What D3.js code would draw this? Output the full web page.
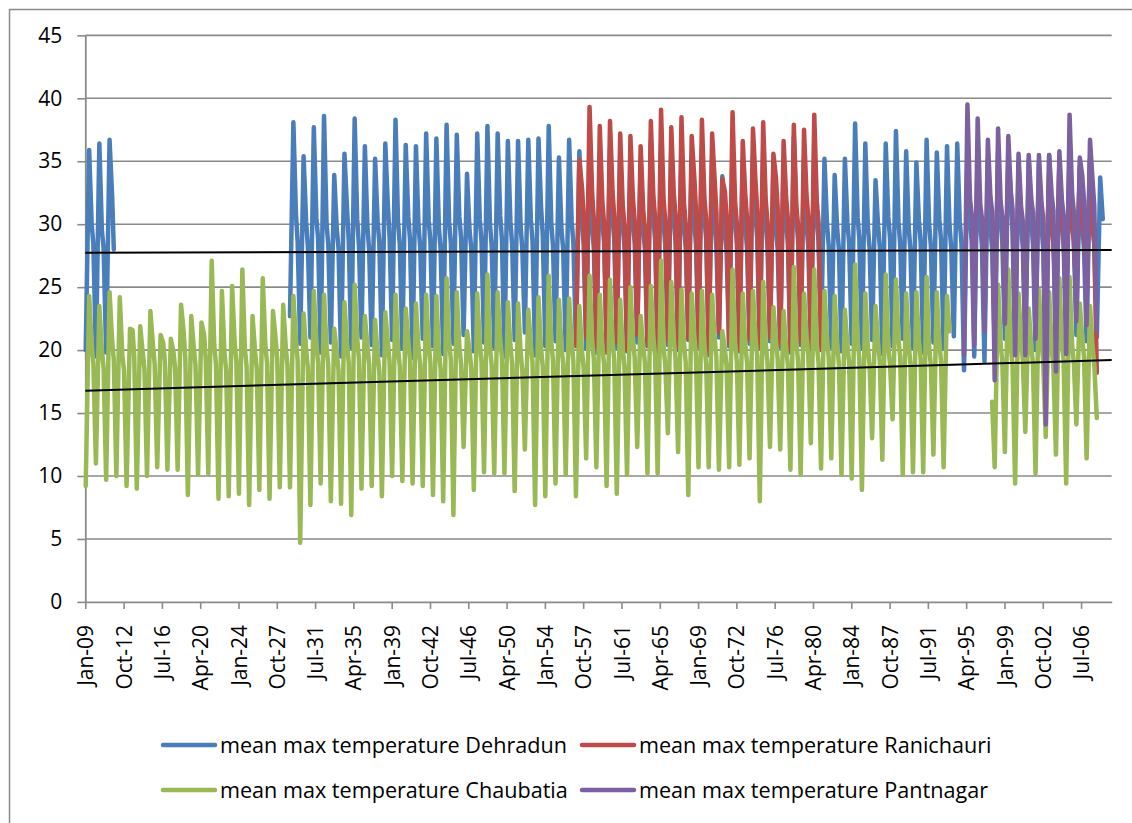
<!DOCTYPE html>
<html>
<head>
<meta charset="utf-8">
<script src="https://cdn.jsdelivr.net/npm/d3@7/dist/d3.min.js"></script>
<style>
  body { margin: 0; background: #fff; }
  svg { display: block; }
</style>
</head>
<body>
<svg id="chart" width="1132" height="823"></svg>
<script>
// ---- categories: one per month, Jan 1909 to Jun 2009 ----
const firstYear = 1909;
const monthCount = 1206;
const tickEvery = 45;
const tickLabels = ["Jan-09","Oct-12","Jul-16","Apr-20","Jan-24","Oct-27","Jul-31","Apr-35","Jan-39",
  "Oct-42","Jul-46","Apr-50","Jan-54","Oct-57","Jul-61","Apr-65","Jan-69","Oct-72","Jul-76",
  "Apr-80","Jan-84","Oct-87","Jul-91","Apr-95","Jan-99","Oct-02","Jul-06"];
const yTicks = [0, 5, 10, 15, 20, 25, 30, 35, 40, 45];

// ---- seasonal readings per year (deg C): January low, May peak, August monsoon, October ----
// Dehradun, 1909-2008
const dehradunStart = 1909;
const dehradunJan = [20.0,19.5,19.8,null,
  null,null,null,null,null,null,null,null,null,null,null,null,null,null,null,null,
  22.7,20.5,21.0,19.8,20.6,19.5,20.2,21.0,20.4,19.6,20.8,20.1,19.4,20.9,20.3,19.7,20.5,21.2,19.9,20.6,
  20.2,19.5,20.8,21.4,19.6,20.3,20.7,20.0,
  20.4,20.1,19.8,20.5,20.2,19.9,20.6,20.3,19.7,20.4,20.0,20.8,20.2,19.6,21.0,20.3,19.9,20.5,20.1,20.7,
  20.2,19.8,20.4,20.0,
  20.6,20.2,19.9,20.5,20.1,20.8,19.7,20.3,20.9,20.2,19.8,20.6,20.1,21.1,18.4,19.5,19.1,20.4,20.9,20.2,
  20.6,20.0,20.5,20.3,20.8,21.2,20.7,21.0];
const dehradunMay = [35.9,36.4,36.7,null,
  null,null,null,null,null,null,null,null,null,null,null,null,null,null,null,null,
  38.1,35.4,37.7,38.6,33.9,35.6,38.4,36.2,35.2,36.4,38.3,36.3,36.2,37.2,36.8,37.9,37.1,34.0,37.2,37.8,
  37.2,36.6,36.6,36.7,36.8,37.8,35.3,36.7,
  35.8,36.2,35.6,36.0,35.5,35.2,35.0,36.6,36.4,35.8,36.1,35.4,35.9,35.3,33.8,36.2,35.1,35.4,35.7,34.6,
  35.2,36.9,35.3,36.0,
  35.2,33.9,35.2,38.0,36.4,33.5,36.4,37.4,35.8,34.9,36.7,35.7,36.2,36.4,35.6,36.0,35.2,35.8,35.4,34.8,
  35.1,34.9,35.5,35.0,35.8,34.6,35.2,33.7];
const dehradunAug = [30.0,29.5,32.3,null,
  null,null,null,null,null,null,null,null,null,null,null,null,null,null,null,null,
  30.8,30.2,30.5,30.0,29.6,31.3,30.4,29.8,30.2,31.5,30.1,30.6,29.9,30.3,29.7,30.2,30.6,29.5,30.4,30.0,
  30.7,30.2,29.8,30.4,31.4,30.1,29.6,30.2,
  30.3,29.8,30.1,30.4,29.9,30.2,29.7,30.5,30.0,30.3,29.8,30.1,30.4,29.9,29.4,30.2,29.8,30.6,30.0,29.7,
  30.1,30.4,29.9,30.3,
  30.0,29.6,30.1,30.5,29.8,29.9,30.6,30.2,29.7,30.3,30.0,30.4,29.8,30.2,30.4,30.1,29.8,30.3,32.5,30.0,
  30.2,29.9,30.4,30.1,30.3,29.8,30.2,30.4];
const dehradunOct = [28.4,28.1,28.0,null,
  null,null,null,null,null,null,null,null,null,null,null,null,null,null,null,null,
  28.6,28.2,28.9,28.4,28.1,28.7,28.3,28.0,28.5,29.0,28.4,28.8,28.2,28.6,28.0,28.5,28.9,28.1,28.7,28.3,
  28.8,28.4,28.0,28.6,29.1,28.3,28.0,28.5,
  28.4,28.1,28.6,28.8,28.2,28.5,28.0,28.7,28.3,28.6,28.1,28.4,28.8,28.2,27.9,28.5,28.1,28.9,28.3,28.0,
  28.4,28.7,28.2,28.6,
  28.3,28.0,28.5,28.8,28.1,28.2,28.9,28.4,28.0,28.6,28.3,28.7,28.1,28.5,28.6,28.3,28.0,28.5,29.2,28.2,
  28.4,28.1,28.6,28.3,28.5,28.0,28.4,null];

// Ranichauri, 1957-2008
const ranichauriStart = 1957;
const ranichauriJan = [20.3,21.0,20.2,19.8,20.6,20.0,21.2,20.4,19.9,20.7,20.1,20.9,20.3,19.7,21.4,20.5,
  20.0,20.8,20.2,21.0,20.4,19.9,20.6,20.1,20.0,
  null,null,null,null,null,null,null,null,null,null,null,null,null,null,null,null,null,null,null,null,null,
  24.5,24.0,23.5,24.2,23.8,18.2];
const ranichauriMay = [35.1,39.3,37.8,38.2,37.2,37.0,36.2,38.2,39.1,37.7,38.5,37.0,38.3,37.2,33.6,38.9,
  36.6,37.6,38.1,35.6,36.6,37.9,37.5,38.7,null,
  null,null,null,null,null,null,null,null,null,null,null,null,null,null,null,null,null,null,null,null,null,
  34.0,34.8,35.5,34.5,35.0,null];
const ranichauriAug = [33.0,32.5,31.8,32.6,31.5,32.0,31.2,32.2,31.9,32.4,31.6,33.8,32.0,33.5,32.6,31.8,
  32.3,33.4,31.9,33.7,32.1,31.4,32.2,31.8,null,
  null,null,null,null,null,null,null,null,null,null,null,null,null,null,null,null,null,null,null,null,null,
  29.5,30.0,29.8,30.2,29.6,null];
const ranichauriOct = [30.8,30.4,30.1,30.6,29.9,30.3,29.7,30.5,30.2,30.7,30.0,31.2,30.4,31.0,30.6,30.1,
  30.5,31.1,30.2,31.3,30.4,29.9,30.6,30.2,null,
  null,null,null,null,null,null,null,null,null,null,null,null,null,null,null,null,null,null,null,null,null,
  28.5,28.9,28.7,29.1,28.6,null];

// Chaubatia, 1909-2008
const chaubatiaStart = 1909;
const chaubatiaJan = [9.2,11.0,9.7,10.0,9.2,9.0,10.0,10.7,10.5,10.5,
  8.5,10.1,10.2,8.2,8.4,8.6,7.7,8.9,8.2,9.1,
  9.1,4.7,7.7,9.4,8.0,7.8,6.9,9.0,9.2,8.4,
  10.0,9.6,9.4,9.2,8.5,8.0,6.9,12.3,8.9,10.3,
  10.2,10.2,8.8,12.1,7.7,8.4,9.4,10.1,8.4,11.4,
  10.7,9.2,8.6,10.1,12.3,10.2,10.2,13.4,11.9,8.5,
  10.7,10.7,10.5,10.7,10.9,11.4,8.0,12.3,12.1,10.5,
  10.1,12.6,10.6,11.4,10.1,9.8,8.9,13.0,11.3,14.5,
  10.1,10.3,10.3,11.7,10.7,null,null,null,null,10.7,
  11.9,9.4,13.5,10.2,13.1,11.7,9.4,14.1,11.4,14.6];
const chaubatiaMay = [24.3,23.5,24.6,24.2,21.7,21.9,23.1,21.2,20.9,23.6,
  22.7,22.2,27.1,24.7,25.1,26.4,22.7,25.7,23.1,23.6,
  24.3,22.9,24.7,24.4,21.7,23.8,25.2,22.7,22.4,23.0,
  24.4,23.3,23.7,24.4,24.3,25.7,24.6,21.5,24.5,26.0,
  24.6,23.8,23.7,23.2,24.2,25.9,24.0,24.1,23.5,25.9,
  24.4,25.6,24.0,25.0,22.7,25.1,27.1,25.4,24.8,24.5,
  24.7,24.4,21.5,26.4,24.5,24.7,25.4,23.4,23.1,26.6,
  24.5,26.4,24.7,24.3,23.2,26.8,24.5,23.5,26.0,25.6,
  24.5,24.6,25.8,24.6,24.3,null,null,null,null,25.2,
  26.4,24.5,23.3,24.8,24.6,25.7,25.8,23.7,23.5,null];
const chaubatiaAug = [20.5,20.0,20.8,19.6,21.6,19.8,20.4,20.6,19.9,21.5,
  20.2,21.3,20.4,19.8,20.6,20.1,19.9,20.5,21.0,20.3,
  20.8,20.0,20.6,20.2,19.8,20.5,20.9,20.3,19.7,20.6,
  20.1,20.8,20.2,20.5,19.9,20.7,20.3,20.0,20.6,20.2,
  20.9,20.4,19.8,20.5,20.1,20.7,20.3,20.6,20.0,20.8,
  20.3,20.7,20.1,20.9,20.4,21.0,20.2,20.8,20.5,21.2,
  20.3,20.9,20.1,20.6,20.4,21.0,20.5,20.8,20.2,20.6,
  21.1,20.5,20.9,20.4,20.4,20.8,20.2,20.6,20.3,20.9,
  20.4,20.8,20.2,20.6,21.5,null,null,null,null,20.5,
  20.2,20.8,20.3,20.6,20.1,20.7,20.4,20.9,20.3,null];
const chaubatiaOct = [18.9,18.6,19.2,18.4,19.5,18.5,18.9,19.1,18.6,19.4,
  18.8,19.3,18.9,18.4,19.0,18.7,18.5,19.0,19.3,18.8,
  19.2,18.6,19.0,18.8,18.4,19.0,19.3,18.9,18.3,19.1,
  18.7,19.2,18.8,19.0,18.5,19.2,18.9,18.6,19.1,18.8,
  19.4,18.9,18.4,19.0,18.7,19.2,18.9,19.1,18.6,19.3,
  18.9,19.2,18.7,19.4,19.0,19.5,18.8,19.3,19.0,19.6,
  18.9,19.4,18.7,19.1,19.0,19.5,19.0,19.3,18.8,19.1,
  19.6,19.0,19.4,18.9,19.0,19.3,18.8,19.1,18.9,19.4,
  19.0,19.3,18.8,19.1,null,null,null,null,15.9,19.0,
  18.8,19.3,18.9,19.1,18.7,19.2,19.0,19.4,18.9,null];

// Pantnagar, 1995-2008
const pantnagarStart = 1995;
const pantnagarJan = [19.6,20.4,21.5,17.6,22.1,19.6,19.6,20.9,14.1,18.3,19.7,22.3,22.0,21.5];
const pantnagarMay = [39.5,38.4,36.7,37.6,37.0,35.6,35.5,35.5,35.5,35.8,38.7,35.3,36.7,null];
const pantnagarAug = [32.0,31.6,32.2,31.8,32.5,31.4,32.0,31.7,32.3,31.9,32.4,33.8,33.5,null];
const pantnagarOct = [30.8,30.5,31.0,30.6,31.2,30.3,30.9,30.5,31.1,30.7,31.0,31.8,31.5,null];

// linear trend end values (first and last month)
const trendDehradun = [27.74, 27.95];
const trendChaubatia = [16.78, 19.21];

const seriesNames = ["mean max temperature Dehradun", "mean max temperature Ranichauri",
  "mean max temperature Chaubatia", "mean max temperature Pantnagar"];
const seriesColors = ["#4a7ebb", "#be4b48", "#98b954", "#7d60a0"];

// ---- layout ----
const W = 1132, H = 823;
const plot = { left: 85.3, right: 1111.7, top: 35.35, bottom: 601.9 };
const svg = d3.select("#chart");
const gridColor = "#8a8a8a";

const x = d3.scaleBand().domain(d3.range(monthCount)).range([plot.left, plot.right]);
const xc = i => x(i) + x.bandwidth() / 2;
const y = d3.scaleLinear().domain([0, 45]).range([plot.bottom, plot.top]);

// chart area frame
svg.append("path")
  .attr("d", `M9.5,${H} V9.5 H${W}`)
  .attr("fill", "none").attr("stroke", gridColor).attr("stroke-width", 1.5);

// horizontal gridlines
svg.append("g").selectAll("line")
  .data(yTicks.filter(v => v > 0))
  .join("line")
  .attr("x1", plot.left).attr("x2", plot.right)
  .attr("y1", d => y(d)).attr("y2", d => y(d))
  .attr("stroke", gridColor).attr("stroke-width", 1.6);

// y axis
const yAxis = svg.append("g")
  .attr("transform", `translate(${plot.left},0)`)
  .call(d3.axisLeft(y).tickValues(yTicks).tickSize(8).tickSizeOuter(0).tickPadding(15));
yAxis.select(".domain").attr("stroke", gridColor).attr("stroke-width", 1.8);
yAxis.selectAll(".tick line").attr("stroke", gridColor).attr("stroke-width", 1.6);
yAxis.selectAll(".tick text")
  .attr("font-family", "'Open Sans', sans-serif").attr("font-size", 21).attr("fill", "#000");

// x axis
const tickIdx = d3.range(0, monthCount, tickEvery);
const xAxis = svg.append("g")
  .attr("transform", `translate(0,${plot.bottom})`)
  .call(d3.axisBottom(x).tickValues(tickIdx)
    .tickFormat((d, i) => tickLabels[i]).tickSize(7).tickSizeOuter(0));
xAxis.select(".domain").attr("stroke", gridColor).attr("stroke-width", 1.8);
xAxis.selectAll(".tick line").attr("stroke", gridColor).attr("stroke-width", 1.6);
xAxis.selectAll(".tick text")
  .attr("font-family", "'Open Sans', sans-serif").attr("font-size", 21).attr("fill", "#000")
  .attr("text-anchor", "end")
  .attr("transform", "rotate(-90)")
  .attr("x", -23).attr("y", 0).attr("dy", "0.36em");

// ---- series ----
function seasonalPoints(start, jan, may, aug, oct) {
  const pts = [];
  jan.forEach((_, k) => {
    const base = (start + k - firstYear) * 12;
    pts.push({ m: base, v: jan[k] });
    pts.push({ m: base + 4, v: may[k] });
    pts.push({ m: base + 7, v: aug[k] });
    pts.push({ m: base + 9, v: oct[k] });
  });
  return pts.filter(p => p.m < monthCount);
}

const seriesPoints = [
  seasonalPoints(dehradunStart, dehradunJan, dehradunMay, dehradunAug, dehradunOct),
  seasonalPoints(ranichauriStart, ranichauriJan, ranichauriMay, ranichauriAug, ranichauriOct),
  seasonalPoints(chaubatiaStart, chaubatiaJan, chaubatiaMay, chaubatiaAug, chaubatiaOct),
  seasonalPoints(pantnagarStart, pantnagarJan, pantnagarMay, pantnagarAug, pantnagarOct)
];

const line = d3.line()
  .defined(d => d.v != null)
  .x(d => xc(d.m))
  .y(d => y(d.v));

svg.append("g").selectAll("path")
  .data(seriesPoints)
  .join("path")
  .attr("d", line)
  .attr("fill", "none")
  .attr("stroke", (d, i) => seriesColors[i])
  .attr("stroke-width", 4.5)
  .attr("stroke-linejoin", "round")
  .attr("stroke-linecap", "round");

// linear trends
svg.append("g").selectAll("line")
  .data([trendDehradun, trendChaubatia])
  .join("line")
  .attr("x1", plot.left).attr("x2", plot.right)
  .attr("y1", d => y(d[0])).attr("y2", d => y(d[1]))
  .attr("stroke", "#000").attr("stroke-width", 2);

// ---- legend ----
const legend = svg.append("g");
seriesNames.forEach((name, i) => {
  const col = i % 2, row = Math.floor(i / 2);
  const lx = col === 0 ? 163 : 582;
  const ly = row === 0 ? 745 : 790;
  legend.append("line")
    .attr("x1", lx).attr("x2", lx + 52).attr("y1", ly).attr("y2", ly)
    .attr("stroke", seriesColors[i]).attr("stroke-width", 4.5).attr("stroke-linecap", "round");
  legend.append("text")
    .attr("x", lx + 57).attr("y", ly).attr("dy", "0.35em")
    .attr("font-family", "'Open Sans', sans-serif").attr("font-size", 21.6)
    .attr("fill", "#000").text(name);
});
</script>
</body>
</html>
